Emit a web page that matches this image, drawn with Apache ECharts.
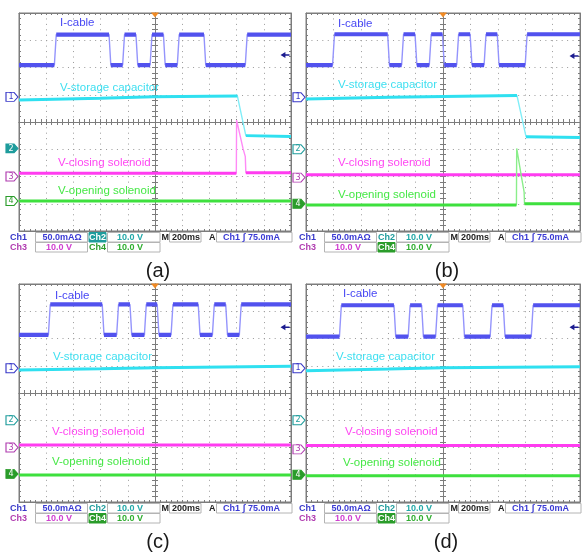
<!DOCTYPE html>
<html>
<head>
<meta charset="utf-8">
<script src="https://cdn.jsdelivr.net/npm/echarts@6/dist/echarts.min.js"></script>
<style>
  html, body { margin: 0; padding: 0; background: #fff; }
  #chart { width: 582px; height: 553px; }
</style>
</head>
<body>
<div id="chart"></div>
<script>
// time in ms (200 ms/div, trigger at 0), vertical in screen divisions from the centre line
const T_MIN = -1000, T_MAX = 1000, T_STEP = 200;
const V_MIN = -4, V_MAX = 4, V_STEP = 1;

const panelNames = ['(a)', '(b)', '(c)', '(d)'];
const traceNames = ['I-cable', 'V-storage capacitor', 'V-closing solenoid', 'V-opening solenoid'];

// (a)
const iCableA = [[-1000, 2.09], [-740, 2.09], [-726, 3.21], [-338, 3.21], [-325, 2.09], [-238, 2.09], [-224, 3.21], [-140, 3.21],
  [-127, 2.09], [-36, 2.09], [-22, 3.21], [62, 3.21], [75, 2.09], [164, 2.09], [178, 3.21], [360, 3.21], [373, 2.09],
  [664, 2.09], [678, 3.21], [1000, 3.21]];
const vStorageA = [[-1000, 0.81], [-404, 0.87], [-12, 0.93], [606, 0.95], [668, -0.50], [1000, -0.53]];
const vClosingA = [[-1000, -1.88], [598, -1.88], [600, 0.07], [647, -0.97], [664, -1.27], [668, -1.86], [1000, -1.86]];
const vOpeningA = [[-1000, -2.90], [1000, -2.90]];
// (b)
const iCableB = [[-1000, 2.09], [-806, 2.09], [-792, 3.22], [-404, 3.22], [-391, 2.09], [-302, 2.09], [-288, 3.22], [-204, 3.22],
  [-191, 2.09], [-100, 2.09], [-86, 3.22], [-4, 3.22], [9, 2.09], [100, 2.09], [114, 3.22], [198, 3.22], [211, 2.09],
  [300, 2.09], [314, 3.22], [396, 3.22], [409, 2.09], [600, 2.09], [614, 3.22], [1000, 3.22]];
const vStorageB = [[-1000, 0.84], [-386, 0.91], [2, 0.94], [540, 0.97], [606, -0.54], [1000, -0.57]];
const vClosingB = [[-1000, -1.94], [1000, -1.94]];
const vOpeningB = [[-1000, -3.05], [536, -3.05], [538, -0.97], [574, -2.05], [592, -2.56], [595, -3.0], [1000, -3.0]];
// (c)
const iCableC = [[-1000, 2.13], [-784, 2.13], [-770, 3.25], [-388, 3.25], [-375, 2.13], [-282, 2.13], [-268, 3.25], [-184, 3.25],
  [-171, 2.13], [-78, 2.13], [-64, 3.25], [16, 3.25], [29, 2.13], [118, 2.13], [132, 3.25], [318, 3.25], [331, 2.13],
  [422, 2.13], [436, 3.25], [520, 3.25], [533, 2.13], [620, 2.13], [634, 3.25], [1000, 3.25]];
const vStorageC = [[-1000, 0.84], [-400, 0.89], [0, 0.93], [1000, 0.98]];
const vClosingC = [[-1000, -1.91], [1000, -1.91]];
const vOpeningC = [[-1000, -3.01], [1000, -3.01]];
// (d)
const iCableD = [[-1000, 2.07], [-756, 2.07], [-742, 3.22], [-358, 3.22], [-345, 2.07], [-254, 2.07], [-240, 3.22], [-156, 3.22],
  [-143, 2.07], [-54, 2.07], [-40, 3.22], [144, 3.22], [157, 2.07], [344, 2.07], [358, 3.22], [440, 3.22], [453, 2.07],
  [644, 2.07], [658, 3.22], [1000, 3.22]];
const vStorageD = [[-1000, 0.82], [-400, 0.88], [0, 0.93], [1000, 0.96]];
const vClosingD = [[-1000, -1.93], [1000, -1.93]];
const vOpeningD = [[-1000, -3.04], [1000, -3.04]];

// channel ground markers 1..4, trigger level, highlighted channel
const markerLevelsA = [0.92, -0.97, -2.0, -2.9];
const markerLevelsB = [0.91, -1.0, -2.04, -3.0];
const markerLevelsC = [0.91, -1.0, -2.0, -2.97];
const markerLevelsD = [0.91, -1.0, -2.07, -3.0];
const trigLevels = [2.46, 2.42, 2.41, 2.41];
const activeChannel = [2, 4, 4, 4];

// status bar readouts
const chNames = ['Ch1', 'Ch2', 'Ch3', 'Ch4'];
const chScales = ['50.0mA\u03a9', '10.0 V', '10.0 V', '10.0 V'];
const timeBase = '200ms';
const trigText = 'Ch1 \u0283 75.0mA';

const traces = [
  [iCableA, vStorageA, vClosingA, vOpeningA],
  [iCableB, vStorageB, vClosingB, vOpeningB],
  [iCableC, vStorageC, vClosingC, vOpeningC],
  [iCableD, vStorageD, vClosingD, vOpeningD]
];
const markerLevels = [markerLevelsA, markerLevelsB, markerLevelsC, markerLevelsD];

const layouts = [
  { left: 19, top: 13, width: 272, height: 218, labels: [[41, 10], [41, 74.5], [39, 150.3], [39, 177.7]], caption: [158, 271] },
  { left: 306, top: 13, width: 274, height: 218, labels: [[32, 11], [32, 72], [32, 150.3], [32, 182]], caption: [447, 271] },
  { left: 19, top: 284, width: 272, height: 218, labels: [[36, 12], [34, 73], [33, 147.7], [33, 178]], caption: [158, 542] },
  { left: 306, top: 284, width: 274, height: 218, labels: [[37, 10], [30, 73], [39, 148], [37, 179]], caption: [446, 542] }
];

const traceColors = ['#5252ee', '#2fe0f0', '#ff3cf0', '#3ee03e'];
const edgeColors = ['#9494fc', '#80eef8', '#ff8af6', '#8aee8a'];
const traceWidths = [4.2, 3, 3, 3];
const labelColors = ['#4848f4', '#3edff0', '#ff46f2', '#46e846'];
const chColors = ['#3838c8', '#1e9c9c', '#b03cb0', '#2a9c2a'];
const valColors = ['#3a3ad4', '#22a8a8', '#d040d0', '#30ae30'];
const frameColor = '#7c7c7c';
const FONT = '"Liberation Sans", Arial, sans-serif';

const chevron = 'path://M0,0 L8,0 L12,4.5 L8,9 L0,9 Z';
const leftArrow = 'path://M0,4 L6,0 L6,8 Z M6,3 L11,3 L11,5 L6,5 Z';

// flat parts of a trace are drawn thick (noise band), steep edges thin
function flatParts(data) {
  const out = [];
  let open = false;
  for (let k = 0; k < data.length - 1; k++) {
    const a = data[k], b = data[k + 1];
    const flat = Math.abs(b[1] - a[1]) / Math.max(b[0] - a[0], 1e-6) < 0.002;
    if (flat) {
      if (!open) out.push(a);
      out.push(b);
      open = true;
    } else if (open) {
      out.push(['-', '-']);
      open = false;
    }
  }
  return out;
}

function xAx(gi, position, offset, split, tick) {
  return {
    gridIndex: gi, type: 'value', min: T_MIN, max: T_MAX, interval: T_STEP, position, offset,
    axisLine: { show: true, onZero: false, lineStyle: { color: frameColor, width: 1 } },
    axisTick: { show: true, inside: true, length: tick, lineStyle: { color: frameColor } },
    minorTick: { show: true, splitNumber: 5, length: tick, lineStyle: { color: frameColor } },
    axisLabel: { show: false },
    splitLine: { show: split, lineStyle: { color: '#9a9a9a', type: [1, 4.44] } }
  };
}
function yAx(gi, position, offset, split, tick) {
  return {
    gridIndex: gi, type: 'value', min: V_MIN, max: V_MAX, interval: V_STEP, position, offset,
    axisLine: { show: true, onZero: false, lineStyle: { color: frameColor, width: 1 } },
    axisTick: { show: true, inside: true, length: tick, lineStyle: { color: frameColor } },
    minorTick: { show: true, splitNumber: 5, length: tick, lineStyle: { color: frameColor } },
    axisLabel: { show: false },
    splitLine: { show: split, lineStyle: { color: '#9a9a9a', type: [1, 4.44] } }
  };
}

function text(x, y, str, color, font, align) {
  return { type: 'text', x, y, silent: true, z: 20,
    style: { text: str, fill: color, font, align: align || 'left', verticalAlign: 'middle' } };
}
function box(x, y, w, h, fill, stroke) {
  return { type: 'rect', silent: true, z: 19, shape: { x, y, width: w, height: h },
    style: { fill, stroke: stroke || '#b4b4b4', lineWidth: 1 } };
}

const option = {
  animation: false,
  backgroundColor: '#fff',
  grid: [], xAxis: [], yAxis: [], series: [], graphic: []
};

layouts.forEach((g, i) => {
  option.grid.push({ left: g.left, top: g.top, width: g.width, height: g.height, show: true,
    borderColor: frameColor, borderWidth: 1, backgroundColor: '#fff' });
  const xi = option.xAxis.length, yi = option.yAxis.length;
  // frame + dotted divisions, frame top, centre line ticks on both sides
  option.xAxis.push(xAx(i, 'bottom', 0, true, 2), xAx(i, 'top', 0, false, 2),
    xAx(i, 'top', -g.height / 2, false, 3), xAx(i, 'bottom', -g.height / 2, false, 3));
  option.yAxis.push(yAx(i, 'left', 0, true, 2), yAx(i, 'right', 0, false, 2),
    yAx(i, 'left', -g.width / 2, false, 3), yAx(i, 'right', -g.width / 2, false, 3));

  const levels = markerLevels[i];
  const marks = levels.map((lv, c) => {
    const on = activeChannel[i] === c + 1;
    return {
      coord: [T_MIN, lv], symbol: chevron, symbolSize: [12, 9], symbolOffset: [-7, 0],
      itemStyle: { color: on ? chColors[c] : '#fff', borderColor: chColors[c], borderWidth: 1 },
      label: { show: true, formatter: String(c + 1), color: on ? '#fff' : chColors[c],
        fontSize: 8, fontFamily: 'DejaVu Sans', position: 'inside', offset: [-1, 0] }
    };
  });
  marks.push({ coord: [0, V_MAX], symbol: 'triangle', symbolRotate: 180, symbolSize: [8, 5],
    symbolOffset: [0, 2], itemStyle: { color: '#f08a24' }, label: { show: false } });
  marks.push({ coord: [T_MAX, trigLevels[i]], symbol: leftArrow, symbolSize: [9, 6],
    symbolOffset: [-6, 0], itemStyle: { color: '#1c1c90' }, label: { show: false } });

  traces[i].forEach((data, c) => {
    const s = {
      type: 'line', xAxisIndex: xi, yAxisIndex: yi, data, symbol: 'none', silent: true, z: 3 + c,
      lineStyle: { color: edgeColors[c], width: 1.4 }
    };
    if (c === 0) s.markPoint = { silent: true, z: 10, data: marks };
    option.series.push(s);
    option.series.push({
      type: 'line', xAxisIndex: xi, yAxisIndex: yi, data: flatParts(data), symbol: 'none', silent: true,
      connectNulls: false, z: 3 + c, lineStyle: { color: traceColors[c], width: traceWidths[c] }
    });
  });

  // trace names
  g.labels.forEach((p, c) => {
    option.graphic.push(text(g.left + p[0], g.top + p[1], traceNames[c], labelColors[c], '11.5px ' + FONT));
  });

  // status readout under the screen
  const sx = g.left + (g.width - 272), sy = g.top + g.height;
  const sf = 'bold 9px ' + FONT;
  const r1 = sy + 1.5, r2 = sy + 11.5, h = 9.5;
  const cell = (x, y, c) => {
    if (activeChannel[i] === c + 1) {
      option.graphic.push(box(sx + x - 0.5, y, 17, h, chColors[c], chColors[c]));
      option.graphic.push(text(sx + x + 8, y + h / 2 + 0.5, chNames[c], '#fff', sf, 'center'));
    } else {
      option.graphic.push(text(sx + x + 8, y + h / 2 + 0.5, chNames[c], chColors[c], sf, 'center'));
    }
  };
  cell(-8.5, r1, 0);
  option.graphic.push(box(sx + 16.5, r1, 52, h, '#fff'));
  option.graphic.push(text(sx + 23.5, r1 + h / 2 + 0.5, chScales[0], valColors[0], sf));
  cell(70.5, r1, 1);
  option.graphic.push(box(sx + 88.5, r1, 52.5, h, '#fff'));
  option.graphic.push(text(sx + 98, r1 + h / 2 + 0.5, chScales[1], valColors[1], sf));
  option.graphic.push(text(sx + 142.5, r1 + h / 2 + 0.5, 'M', '#222', sf));
  option.graphic.push(box(sx + 150.5, r1, 31.5, h, '#fff'));
  option.graphic.push(text(sx + 153, r1 + h / 2 + 0.5, timeBase, '#222', sf));
  option.graphic.push(text(sx + 190, r1 + h / 2 + 0.5, 'A', '#222', sf));
  option.graphic.push(box(sx + 197.5, r1, g.left + g.width + 1 - (sx + 197.5), h, '#fff'));
  option.graphic.push(text(sx + 204, r1 + h / 2 + 0.5, trigText, valColors[0], sf));
  cell(-8.5, r2, 2);
  option.graphic.push(box(sx + 16.5, r2, 52, h, '#fff'));
  option.graphic.push(text(sx + 27, r2 + h / 2 + 0.5, chScales[2], valColors[2], sf));
  cell(70.5, r2, 3);
  option.graphic.push(box(sx + 88.5, r2, 52.5, h, '#fff'));
  option.graphic.push(text(sx + 98, r2 + h / 2 + 0.5, chScales[3], valColors[3], sf));

  option.graphic.push(text(g.caption[0], g.caption[1], panelNames[i], '#1a1a1a', '20px ' + FONT, 'center'));
});

const chart = echarts.init(document.getElementById('chart'), null, { renderer: 'canvas' });
chart.setOption(option);
</script>
</body>
</html>
